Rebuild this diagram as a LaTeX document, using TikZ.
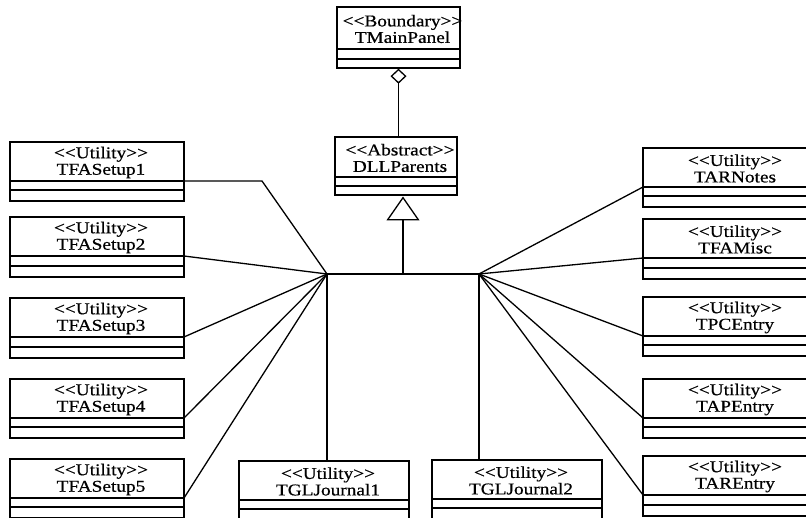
\documentclass[tikz,border=0pt]{standalone}
\usepackage{fontspec}
\setmainfont{Liberation Serif}
\newfontfamily\umlfont[FakeStretch=1.17,FakeBold=0.6]{Liberation Serif}
\usetikzlibrary{arrows.meta}
\newcommand{\stereo}[1]{<\kern0pt<#1>\kern0pt>}
\tikzset{
  boxline/.style={line width=1.3pt},
  hdr/.style={draw, boxline, rectangle, inner sep=0pt, outer sep=0pt, anchor=north west},
  lbl/.style={font=\umlfont\fontsize{16.5}{16.5}\selectfont, align=center, inner sep=0pt},
  conn/.style={line width=1.3pt}
}
% name, x, y, width, header height, stereotype, class name, comp1, comp2
\newcommand{\umlbox}[9]{%
  \node[hdr, minimum width=#4pt, minimum height=#5pt] (#1) at (#2,#3) {};
  \node[lbl] (#1t) at ([xshift=4pt,yshift=-1pt]#1.center) {\stereo{#6}\\#7};
  \draw[boxline] (#1.south west) rectangle ([yshift=-#8pt]#1.south east);
  \draw[boxline] ([yshift=-#8pt]#1.south west) rectangle ([yshift=-#8pt-#9pt]#1.south east);
  \coordinate (#1b) at ([yshift=-#8pt-#9pt]#1.south);
}
\begin{document}
\begin{tikzpicture}[x=1pt,y=-1pt]
\useasboundingbox (0,0) rectangle (806,518);
\clip (0,0) rectangle (806,518);

% top classes
\umlbox{tmp}{337}{7}{123}{42}{Boundary}{TMainPanel}{10}{9}
\umlbox{dll}{335}{137}{122}{40}{Abstract}{DLLParents}{9}{9}

% left column
\umlbox{fa1}{10}{142}{174}{39}{Utility}{TFASetup1}{9}{11}
\umlbox{fa2}{10}{217}{174}{39}{Utility}{TFASetup2}{10}{11}
\umlbox{fa3}{10}{298}{174}{39}{Utility}{TFASetup3}{10}{11}
\umlbox{fa4}{10}{379}{174}{39}{Utility}{TFASetup4}{9}{11}
\umlbox{fa5}{10}{459}{174}{39}{Utility}{TFASetup5}{9}{11}

% bottom
\umlbox{gl1}{239}{461}{170}{39}{Utility}{TGLJournal1}{9}{11}
\umlbox{gl2}{432}{460}{170}{39}{Utility}{TGLJournal2}{9}{11}

% right column
\umlbox{arn}{643}{148}{176}{39}{Utility}{TARNotes}{9}{11}
\umlbox{fam}{643}{219}{176}{39}{Utility}{TFAMisc}{10}{11}
\umlbox{pce}{643}{297}{176}{39}{Utility}{TPCEntry}{9}{11}
\umlbox{ape}{643}{379}{176}{39}{Utility}{TAPEntry}{9}{11}
\umlbox{are}{643}{456}{176}{39}{Utility}{TAREntry}{10}{11}

% hubs
\coordinate (hubL) at (327,274);
\coordinate (hubR) at (479,274);
\coordinate (gen) at (403,274);
\coordinate (bend1) at (262,181);

% aggregation
\draw[conn, {Diamond[open,length=15pt,width=16pt]}-] ([yshift=-0.7pt]tmpb) -- (tmpb |- dll.north);
% generalization
\draw[conn] (hubL) -- (hubR);
\draw[conn, -{Triangle[open,length=24pt,width=33pt]}] (gen) -- ([yshift=-1.5pt]dllb -| gen);

% left connectors
\draw[conn] (fa1.south east) -- (bend1) -- (hubL);
\draw[conn] (fa2.south east) -- (hubL);
\draw[conn] (fa3.south east) -- (hubL);
\draw[conn] (fa4.south east) -- (hubL);
\draw[conn] (fa5.south east) -- (hubL);
\draw[conn] (hubL) -- (hubL |- gl1.north);

% right connectors
\draw[conn] (hubR) -- (arn.south west);
\draw[conn] (hubR) -- (fam.south west);
\draw[conn] (hubR) -- (pce.south west);
\draw[conn] (hubR) -- (ape.south west);
\draw[conn] (hubR) -- (are.south west);
\draw[conn] (hubR) -- (hubR |- gl2.north);
\end{tikzpicture}
\end{document}
